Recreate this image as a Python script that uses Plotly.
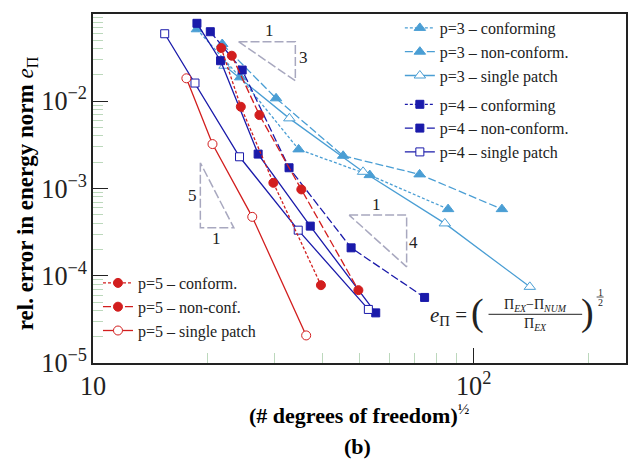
import plotly.graph_objects as go

W, H = 630, 461
ML, MR, MT, MB = 93, 2, 14, 98

# ---------------- data ----------------
p3_conf_x = [18.75, 24.36, 34.68, 53.33, 85.65]
p3_conf_y = [0.0668, 0.0188, 0.002808, 0.001424, 5.80e-4]
p3_nonc_x = [21.85, 30.26, 45.40, 72.09, 118.6]
p3_nonc_y = [0.04529, 0.0108, 0.002371, 0.001451, 5.80e-4]
p3_single_x = [22.16, 32.79, 51.22, 83.97, 140.4]
p3_single_y = [0.02554, 0.006366, 0.001554, 3.98e-4, 7.46e-5]

p4_conf_x = [18.75, 21.63, 27.15, 37.21, 55.29]
p4_conf_y = [0.0782, 0.02914, 0.00248, 3.705e-4, 3.754e-5]
p4_nonc_x = [20.33, 24.65, 32.73, 47.64, 74.30]
p4_nonc_y = [0.06266, 0.02279, 0.001728, 2.089e-4, 5.64e-5]
p4_single_x = [15.43, 18.53, 24.26, 34.6, 52.88]
p4_single_y = [0.0594, 0.01617, 0.00231, 3.33e-4, 4.11e-5]

p5_conf_x = [21.72, 24.45, 29.77, 39.69]
p5_conf_y = [0.04074, 0.008647, 0.001162, 7.80e-5]
p5_nonc_x = [23.15, 27.36, 35.25, 49.78]
p5_nonc_y = [0.03325, 0.006947, 9.76e-4, 6.84e-5]
p5_single_x = [17.59, 20.6, 26.2, 36.3]
p5_single_y = [0.01832, 3.23e-3, 4.73e-4, 2.07e-5]

# slope triangles (x corners, y corners)
tri_a_x = [24.11, 34.0, 34.0, 24.11]
tri_a_y = [0.04811, 0.04811, 0.01718, 0.04811]
tri_b_x = [19.14, 19.14, 23.44, 19.14]
tri_b_y = [0.001971, 3.542e-4, 3.542e-4, 0.001971]
tri_c_x = [47.07, 66.65, 66.65, 47.07]
tri_c_y = [4.955e-4, 4.955e-4, 1.265e-4, 4.955e-4]

C3 = "#4a9ed4"
C4 = "#1a1aaa"
C5 = "#d21e1e"
GRAY = "#a8a8bf"
FONT = "Liberation Serif"
TXT = "#222222"

SHORT = "3px,2px"
LONG = "8px,3px"

fig = go.Figure()


def add(x, y, name, color, dash, symbol, fill, size, group, legend="legend", showlegend=True):
    fig.add_trace(go.Scatter(
        x=x, y=y, name=name, mode="lines+markers",
        line=dict(color=color, width=1.3, dash=dash),
        marker=dict(symbol=symbol, size=size, color=fill,
                    line=dict(color=color, width=1)),
        legendgroup=group, legend=legend, showlegend=showlegend,
    ))


# p=3
add(p3_conf_x, p3_conf_y, "p=3 – conforming", C3, SHORT, "triangle-up", C3, 10, "p3")
add(p3_nonc_x, p3_nonc_y, "p=3 – non-conform.", C3, LONG, "triangle-up", C3, 10, "p3")
add(p3_single_x, p3_single_y, "p=3 – single patch", C3, "solid", "triangle-up", "white", 10, "p3")
# p=4 (conforming curve is drawn solid in the figure; legend shows short dashes)
add([None], [None], "p=4 – conforming", C4, SHORT, "square", C4, 8, "p4")
add(p4_conf_x, p4_conf_y, "p=4 – conforming", C4, "solid", "square", C4, 8, "p4", showlegend=False)
add(p4_nonc_x, p4_nonc_y, "p=4 – non-conform.", C4, LONG, "square", C4, 8, "p4")
add(p4_single_x, p4_single_y, "p=4 – single patch", C4, "solid", "square", "white", 8, "p4")
# p=5
add(p5_conf_x, p5_conf_y, "p=5 – conform.", C5, SHORT, "circle", C5, 9, "p5", legend="legend2")
add(p5_nonc_x, p5_nonc_y, "p=5 – non-conf.", C5, LONG, "circle", C5, 9, "p5", legend="legend2")
add(p5_single_x, p5_single_y, "p=5 – single patch", C5, "solid", "circle", "white", 9, "p5", legend="legend2")

# slope triangles
for tx, ty in [(tri_a_x, tri_a_y), (tri_b_x, tri_b_y), (tri_c_x, tri_c_y)]:
    fig.add_trace(go.Scatter(x=tx, y=ty, mode="lines", showlegend=False,
                             line=dict(color=GRAY, width=1.5, dash="9px,3px"),
                             hoverinfo="skip"))

PW = W - ML - MR
PH = H - MT - MB


def px(x):
    return (x - ML) / PW


def py(y):
    return (H - MB - y) / PH


ann = []


def txt(x, y, s, size=16, xanchor="center", yanchor="middle", color=TXT, angle=0):
    ann.append(dict(x=px(x), y=py(y), xref="paper", yref="paper", text=s,
                    showarrow=False, xanchor=xanchor, yanchor=yanchor, textangle=angle,
                    font=dict(family=FONT, size=size, color=color)))


# axis titles
txt(360, 414, "<b>(# degrees of freedom)</b><sup>½</sup>", 22, color="black")
txt(27, 193, "<b>rel. error in energy norm</b> <i>e</i><sub>Π</sub>", 23, color="black", angle=-90)

# triangle labels
txt(270, 30, "1", 17)
txt(304, 58, "3", 17)
txt(193, 195, "5", 17)
txt(217, 238, "1", 17)
txt(378, 204, "1", 17)
txt(415, 242, "4", 17)

# formula
txt(429, 316, "<i>e</i><sub>Π</sub> =", 21, xanchor="left")
txt(479, 312, "(", 38)
txt(589, 312, ")", 38)
txt(537, 305, "Π<sub><i>EX</i></sub>−Π<sub><i>NUM</i></sub>", 14)
txt(537, 324, "Π<sub><i>EX</i></sub>", 14)
txt(602, 292, "1", 10)
txt(602, 302, "2", 10)

# (b)
txt(358, 446, "<b>(b)</b>", 22, color="black")

shapes = [
    dict(type="line", xref="paper", yref="paper", x0=px(490), x1=px(584),
         y0=py(314.3), y1=py(314.3), line=dict(color=TXT, width=1)),
    dict(type="line", xref="paper", yref="paper", x0=px(598.5), x1=px(605.5),
         y0=py(297), y1=py(297), line=dict(color=TXT, width=0.8)),
]

fig.update_layout(
    width=W, height=H,
    margin=dict(l=ML, r=MR, t=MT, b=MB),
    paper_bgcolor="white", plot_bgcolor="white",
    font=dict(family=FONT, size=20, color=TXT),
    showlegend=True,
    legend=dict(x=px(401), y=py(11), xanchor="left", yanchor="top",
                bgcolor="rgba(0,0,0,0)", font=dict(family=FONT, size=16, color=TXT),
                traceorder="grouped", tracegroupgap=5, itemwidth=30),
    legend2=dict(x=px(98), y=py(266), xanchor="left", yanchor="top",
                 bgcolor="rgba(0,0,0,0)", font=dict(family=FONT, size=16, color=TXT),
                 itemwidth=30),
    annotations=ann,
    shapes=shapes,
)

fig.update_xaxes(
    type="log", range=[1, 2.4], dtick=1, exponentformat="power",
    showgrid=False, zeroline=False,
    showline=True, linecolor=TXT, linewidth=1.5, mirror=True,
    ticks="inside", ticklen=15, tickwidth=1.2, tickcolor=TXT,
    minor=dict(ticks="inside", ticklen=10, tickcolor="#bcd8bc", tickwidth=1, dtick="D1"),
    tickfont=dict(family=FONT, size=21, color=TXT),
)
fig.update_yaxes(
    type="log", range=[-5, -1], dtick=1, exponentformat="power",
    showgrid=False, zeroline=False,
    showline=True, linecolor=TXT, linewidth=1.5, mirror=True,
    ticks="inside", ticklen=15, tickwidth=1.2, tickcolor=TXT,
    minor=dict(ticks="inside", ticklen=10, tickcolor="#bcd8bc", tickwidth=1, dtick="D1"),
    tickfont=dict(family=FONT, size=21, color=TXT),
)

fig.write_html("out.html")
